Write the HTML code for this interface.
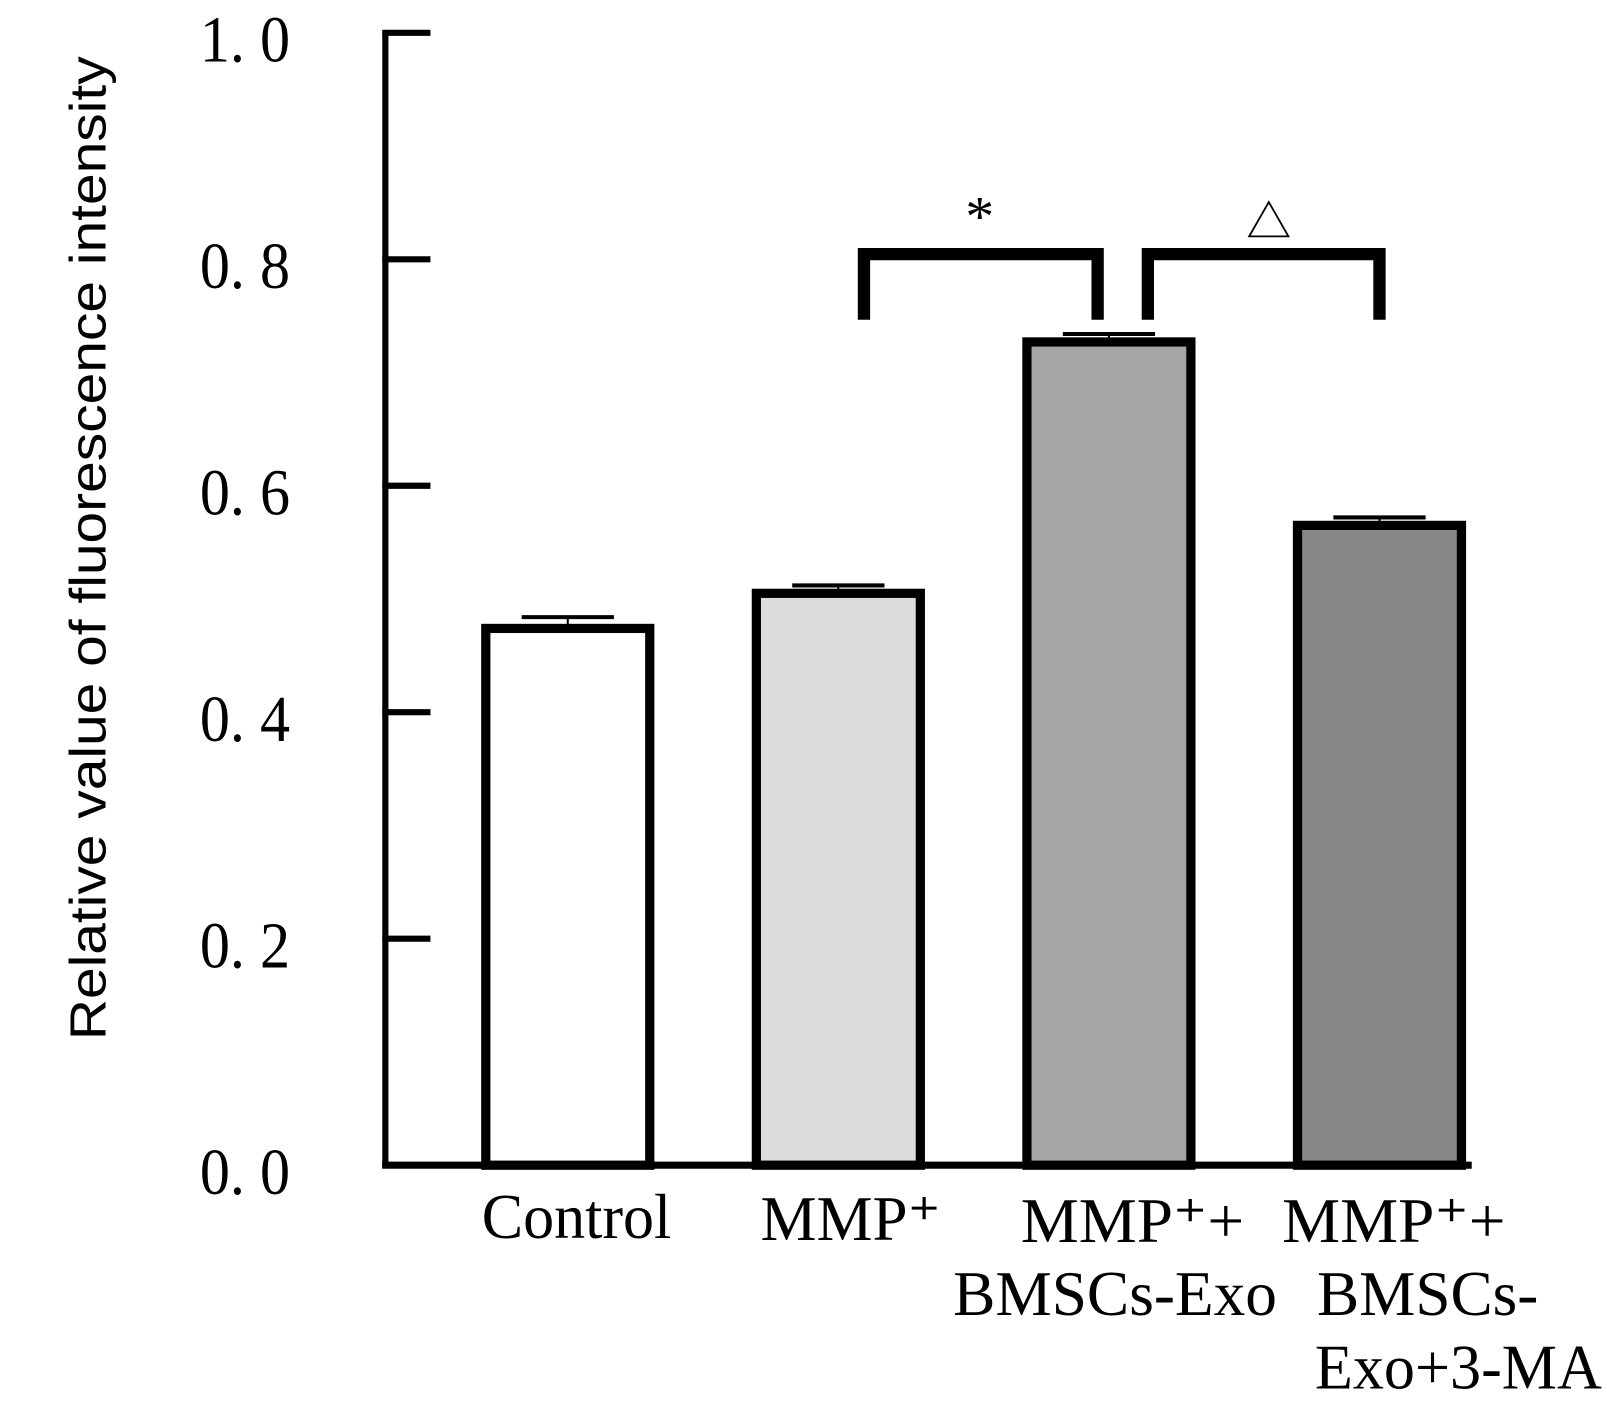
<!DOCTYPE html>
<html><head><meta charset="utf-8"><style>
html,body{margin:0;padding:0;background:#fff;}
svg{display:block;}
text{font-family:"Liberation Serif","Noto Serif CJK SC",serif;fill:#000;}
</style></head><body>
<svg id="chart" width="1607" height="1405" viewBox="0 0 1568 1371" preserveAspectRatio="none" xmlns="http://www.w3.org/2000/svg">
<text transform="translate(103,535) rotate(-90)" text-anchor="middle" font-size="50" textLength="960" lengthAdjust="spacingAndGlyphs" style="font-family:'Liberation Sans',sans-serif">Relative value of fluorescence intensity</text>
<g id="plot"></g>
</svg>
<script>
const categories = ["Control","MMP+","MMP+ + BMSCs-Exo","MMP+ + BMSCs-Exo+3-MA"];
const values = [0.474, 0.505, 0.727, 0.565];
const errors = [0.010, 0.007, 0.007, 0.007];
const fills = ["#ffffff","#dcdcdc","#a6a6a6","#868686"];
const ticks = [0, 0.2, 0.4, 0.6, 0.8, 1.0];
const tickLabels = ["0. 0","0. 2","0. 4","0. 6","0. 8","1. 0"];

const NS = "http://www.w3.org/2000/svg";
const g = document.getElementById("plot");
const y0 = 1137, pxPerUnit = 1105;
const y = v => y0 - v * pxPerUnit;
const xStart = 474, step = 264, barW = 160;
const x = i => xStart + i * step;
function el(tag, attrs){ const e=document.createElementNS(NS,tag); for(const k in attrs) e.setAttribute(k,attrs[k]); g.appendChild(e); return e; }

const ax = el("line",{x1:376,y1:30,x2:376,y2:1140,stroke:"#000","stroke-width":6});


const bx = el("line",{x1:373,y1:1137,x2:1436,y2:1137,stroke:"#000","stroke-width":7});



ticks.forEach((t,i)=>{
  const tk = el("line",{x1:373,y1:y(t),x2:420,y2:y(t),stroke:"#000","stroke-width":6});
  
  
  const tl = el("text",{x:195,y:y(t)+28,"font-size":64,textLength:88,lengthAdjust:"spacingAndGlyphs"});
  tl.textContent = tickLabels[i];
  
  
});

values.forEach((v,i)=>{
  const cx = x(i) + barW/2;
  const eb = el("line",{x1:cx,y1:y(v+errors[i]),x2:cx,y2:y(v),stroke:"#000","stroke-width":2});
  
  
  const cap = el("line",{x1:cx-45,y1:y(v+errors[i]),x2:cx+45,y2:y(v+errors[i]),stroke:"#000","stroke-width":4});
  
  
  const r = el("rect",{x:x(i),y:y(v),width:barW,height:y0-y(v),fill:fills[i],stroke:"#000","stroke-width":9});
  
  
});

const labelLines = [["Control"],["MMP⁺"],["MMP⁺+","BMSCs-Exo"],["MMP⁺+","BMSCs-","Exo+3-MA"]];
const labelPos = [[[470,1208,185]],[[742,1210,176]],[[996,1212,218],[930,1283,316]],[[1251,1212,218],[1285,1283,216],[1283,1355,280]]];
labelLines.forEach((lines,i)=>{
  lines.forEach((s,j)=>{
    const p = labelPos[i][j];
    const t = el("text",{x:p[0],y:p[1],"font-size":62,textLength:p[2],lengthAdjust:"spacingAndGlyphs"});
    t.textContent = s;
    
    
  });
});

function bracket(x1,x2,name){
  const p = el("path",{d:`M${x1},312 V248 H${x2} V312`,fill:"none",stroke:"#000","stroke-width":12});
  
  
}
bracket(843,1071,"significance-bracket-star");
bracket(1120,1346,"significance-bracket-triangle");
const s1 = el("text",{x:956,y:230,"font-size":56,"text-anchor":"middle"});
s1.textContent = "*";


const s2 = el("text",{x:1238,y:232,"font-size":44,"text-anchor":"middle","font-family":"DejaVu Sans, sans-serif"});
s2.textContent = "△";


</script>
</body></html>
